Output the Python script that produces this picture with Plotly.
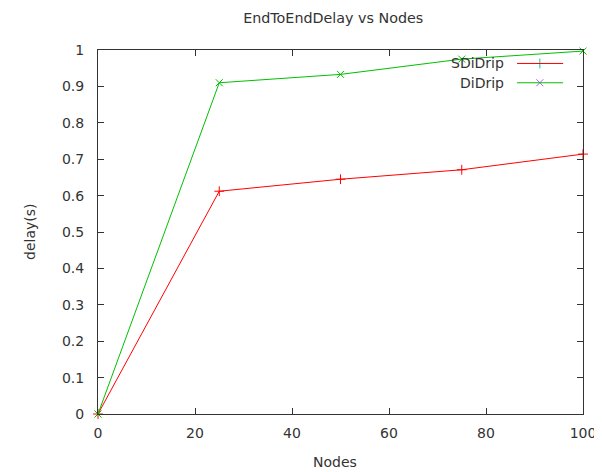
import plotly.graph_objects as go

nodes = [0, 25, 50, 75, 100]
sdidrip = [0.0, 0.612, 0.645, 0.671, 0.714]
didrip = [0.0, 0.910, 0.933, 0.975, 0.997]
series_names = ["SDiDrip", "DiDrip"]
colors = ["#ff0000", "#00c000"]
symbols = ["cross-thin-open", "x-thin-open"]

font = "DejaVu Sans"
fs = 14
tc = "#333"
# page has an 8px body margin, so the figure is laid out shifted by 8px
W, H, L, R, T, B = 602, 464, 90, 27, 42, 58
PH = H - T - B
PW = W - L - R
fig = go.Figure()
for name, ys, c, s in zip(series_names, [sdidrip, didrip], colors, symbols):
    fig.add_trace(go.Scatter(x=nodes, y=ys, mode="lines+markers", name=name,
                             line=dict(color=c, width=1),
                             marker=dict(symbol=s, size=7, line=dict(color=c, width=1)),
                             showlegend=False, cliponaxis=False))

# legend drawn gnuplot-style (text left, sample on right)
leg_y = [0.963, 0.910]
for name, c, s, yy in zip(series_names, colors, symbols, leg_y):
    fig.add_shape(type="line", xref="paper", yref="paper", x0=0.864, x1=0.959, y0=yy, y1=yy,
                  line=dict(color=c, width=1))
    fig.add_trace(go.Scatter(x=[0.911], y=[yy], xaxis="x2", yaxis="y2", mode="markers",
                             marker=dict(symbol=s, size=7, line=dict(color=c, width=1)),
                             showlegend=False, hoverinfo="skip"))
    fig.add_annotation(x=0.842, y=yy, xref="paper", yref="paper", text=name, showarrow=False,
                       xanchor="right", yanchor="middle", font=dict(family=font, size=fs, color=tc))

axis_common = dict(showline=True, linecolor="#333", linewidth=1, mirror="ticks", ticks="inside",
                   ticklen=6, tickcolor="#333", showgrid=False, zeroline=False, automargin=False,
                   tickfont=dict(family=font, size=fs, color=tc))
fig.add_annotation(x=0.5 - 6 / PW, y=-(454 - (H - B)) / PH, xref="paper", yref="paper", text="Nodes",
                   showarrow=False, xanchor="center", yanchor="middle",
                   font=dict(family=font, size=fs, color=tc))
fig.add_annotation(x=(22 - L) / PW, y=0.5, xref="paper", yref="paper", text="delay(s)",
                   showarrow=False, textangle=-90, xanchor="center", yanchor="middle",
                   font=dict(family=font, size=fs, color=tc))
fig.update_layout(
    width=W, height=H, plot_bgcolor="white", paper_bgcolor="white",
    margin=dict(l=L, r=R, t=T, b=B, autoexpand=False),
    title=dict(text="EndToEndDelay vs Nodes", x=0.485, xref="paper", xanchor="center",
               y=1 - 10 / H, yanchor="middle",
               font=dict(family=font, size=14.3, color=tc), automargin=False),
    xaxis=dict(range=[0, 100], dtick=20, ticklabelstandoff=6, **axis_common),
    yaxis=dict(range=[0, 1], dtick=0.1, ticklabelstandoff=10, **axis_common),
    xaxis2=dict(range=[0, 1], overlaying="x", visible=False),
    yaxis2=dict(range=[0, 1], overlaying="y", visible=False),
)
fig.write_html("out.html")
